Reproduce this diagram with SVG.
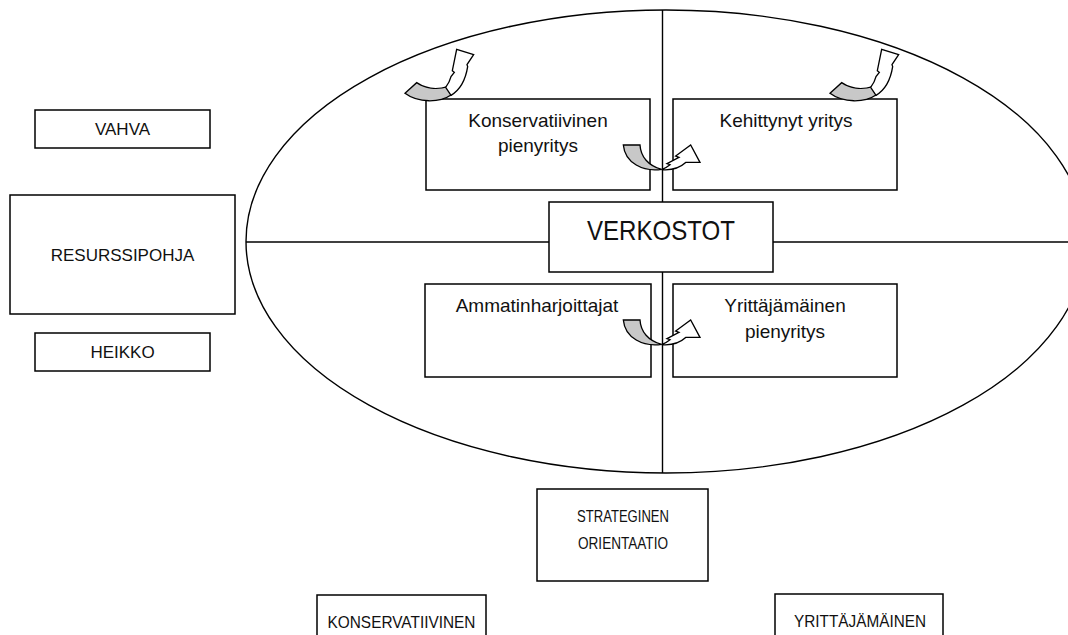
<svg xmlns="http://www.w3.org/2000/svg" width="1068" height="635" viewBox="0 0 1068 635">
<style>
.box{fill:#fff;stroke:#000;stroke-width:1.5}
.ln{fill:none;stroke:#000;stroke-width:1.4}
text{font-family:"Liberation Sans",Arial,sans-serif;fill:#111;text-anchor:middle}
.t19{font-size:19px}
.t17{font-size:17px}
.t16{font-size:17px}
.gray{fill:#c8c8c8;stroke:#000;stroke-width:4}
.wht{fill:#fff;stroke:#000;stroke-width:4}
</style>
<defs>
<g id="arrowTop">
<path class="gray" d="M30,160 L65,128 C90,145 125,150 158,140 L168,165 C135,188 70,190 30,160 Z"/>
<path class="wht" d="M152,142 C160,132 165,122 168,110 L178,97 L172,92 L185,28 L236,44 L216,74 L218,80 C212,118 195,150 168,166 Z"/>
</g>
<g id="arrowMid">
<path class="gray" d="M40,45 L90,45 C92,80 115,108 155,118 C100,126 45,100 40,45 Z"/>
<path class="wht" d="M155,119 C190,122 214,110 228,97 L270,97 L242,45 L197,78 L207,82 L171,101 L180,104 C170,112 163,116 155,119 Z"/>
</g>
</defs>
<g id="connectors">
<ellipse class="ln" cx="666" cy="241.5" rx="420" ry="231.5"/>
<line class="ln" x1="662.5" y1="10" x2="662.5" y2="473"/>
<line class="ln" x1="246" y1="242" x2="1068" y2="242"/>
</g>
<g id="vahva"><rect class="box" x="35" y="110" width="175" height="38"/><text class="t17" x="122.5" y="135">VAHVA</text></g>
<g id="resurssipohja"><rect class="box" x="10" y="195" width="225" height="119"/><text class="t17" x="122.5" y="261">RESURSSIPOHJA</text></g>
<g id="heikko"><rect class="box" x="35" y="333" width="175" height="38"/><text class="t17" x="122.5" y="358">HEIKKO</text></g>
<g id="konservatiivinen-pienyritys"><rect class="box" x="426" y="99" width="224" height="91"/><text class="t19" x="538" y="127">Konservatiivinen</text><text class="t19" x="538" y="152">pienyritys</text></g>
<g id="kehittynyt-yritys"><rect class="box" x="673" y="99" width="224" height="91"/><text class="t19" x="786" y="127">Kehittynyt yritys</text></g>
<g id="verkostot"><rect class="box" x="549" y="202" width="224" height="70"/><text x="661" y="240" style="font-size:28px" textLength="148" lengthAdjust="spacingAndGlyphs">VERKOSTOT</text></g>
<g id="ammatinharjoittajat"><rect class="box" x="425" y="284" width="226" height="93"/><text class="t19" x="537" y="312">Ammatinharjoittajat</text></g>
<g id="yrittajamainen-pienyritys"><rect class="box" x="673" y="284" width="224" height="93"/><text class="t19" x="785" y="312">Yrittäjämäinen</text><text class="t19" x="785" y="338">pienyritys</text></g>
<g id="strateginen-orientaatio"><rect class="box" x="537" y="489" width="171" height="92"/><text class="t16" x="623" y="522" textLength="92" lengthAdjust="spacingAndGlyphs">STRATEGINEN</text><text class="t16" x="623" y="549" textLength="90" lengthAdjust="spacingAndGlyphs">ORIENTAATIO</text></g>
<g id="konservatiivinen"><rect class="box" x="317" y="595" width="169" height="60"/><text class="t16" x="401.5" y="628" textLength="148" lengthAdjust="spacingAndGlyphs">KONSERVATIIVINEN</text></g>
<g id="yrittajamainen"><rect class="box" x="775" y="594" width="168" height="60"/><text class="t16" x="860" y="627" textLength="132" lengthAdjust="spacingAndGlyphs">YRITTÄJÄMÄINEN</text></g>
<g id="arrows">
<use href="#arrowTop" transform="translate(395,40) scale(0.3333)"/>
<use href="#arrowTop" transform="translate(820,40) scale(0.3333)"/>
<use href="#arrowMid" transform="translate(610,130) scale(0.3333)"/>
<use href="#arrowMid" transform="translate(610,305) scale(0.3333)"/>
</g>
</svg>
